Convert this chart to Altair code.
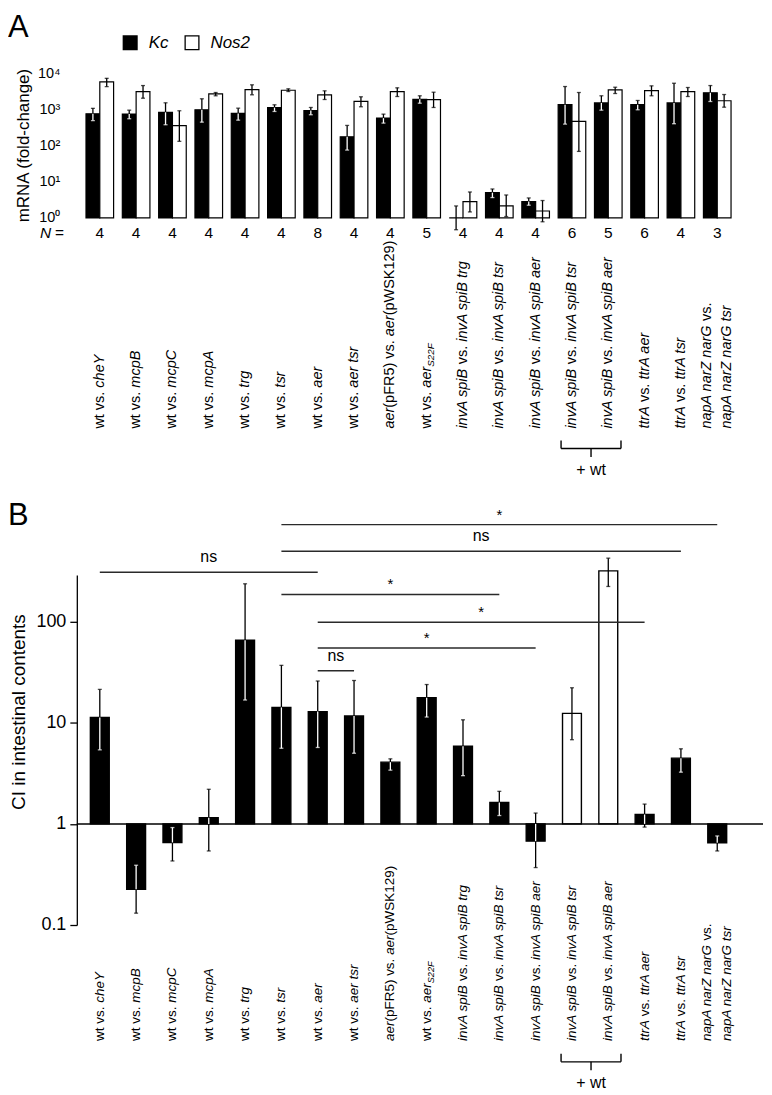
import altair as alt
import pandas as pd

FONT = "Liberation Sans"

# ---------------- data ----------------
# labels: list of lines, each line a list of (text, style) ; n = regular, i = italic, s = italic subscript
LABELS = [
    [[("wt vs. ", "n"), ("cheY", "i")]],
    [[("wt vs. ", "n"), ("mcpB", "i")]],
    [[("wt vs. ", "n"), ("mcpC", "i")]],
    [[("wt vs. ", "n"), ("mcpA", "i")]],
    [[("wt vs. ", "n"), ("trg", "i")]],
    [[("wt vs. ", "n"), ("tsr", "i")]],
    [[("wt vs. ", "n"), ("aer", "i")]],
    [[("wt vs. ", "n"), ("aer tsr", "i")]],
    [[("aer", "i"), ("(pFR5) vs. ", "n"), ("aer", "i"), ("(pWSK129)", "n")]],
    [[("wt vs. ", "n"), ("aer", "i"), ("S22F", "s")]],
    [[("invA spiB", "i"), (" vs. ", "n"), ("invA spiB trg", "i")]],
    [[("invA spiB", "i"), (" vs. ", "n"), ("invA spiB tsr", "i")]],
    [[("invA spiB", "i"), (" vs. ", "n"), ("invA spiB aer", "i")]],
    [[("invA spiB", "i"), (" vs. ", "n"), ("invA spiB tsr", "i")]],
    [[("invA spiB", "i"), (" vs. ", "n"), ("invA spiB aer", "i")]],
    [[("ttrA", "i"), (" vs. ", "n"), ("ttrA aer", "i")]],
    [[("ttrA", "i"), (" vs. ", "n"), ("ttrA tsr", "i")]],
    [[("napA narZ narG", "i"), (" vs.", "n")], [("napA narZ narG tsr", "i")]],
]
N_VALUES = [4, 4, 4, 4, 4, 4, 8, 4, 4, 5, 4, 4, 4, 6, 5, 6, 4, 3]
SERIES = ["Kc", "Nos2"]

KC      = [760, 741, 832, 977, 776, 1122, 933, 174, 575, 1905, 1.0, 5.0, 2.82, 1349, 1514, 1349, 1514, 2884]
KC_LO   = [490, 552, 377, 445, 505, 878, 712, 75, 418, 1486, 0.47, 3.65, 2.24, 392, 953, 977, 402, 1656]
KC_HI   = [1070, 953, 1524, 1968, 1083, 1343, 1132, 361, 740, 2382, 2.14, 6.3, 3.56, 4296, 2382, 1766, 5297, 4571]
NOS2    = [5750, 3090, 355, 2692, 3548, 3388, 2512, 1660, 3090, 1862, 2.82, 2.14, 1.55, 468, 3467, 3311, 3090, 1738]
NOS2_LO = [4270, 2042, 131, 2382, 2535, 3126, 1881, 1183, 2275, 1132, 1.46, 1.09, 0.78, 69, 2754, 2382, 2275, 1153]
NOS2_HI = [7240, 4571, 918, 2936, 4786, 3715, 3268, 2234, 3954, 2992, 5.2, 4.3, 3.02, 2936, 4111, 4487, 4036, 2583]

CI    = [11.3, 0.226, 0.655, 1.15, 65.6, 14.2, 12.9, 11.7, 4.08, 17.7, 5.87, 1.63, 0.675, 12.4, 318, 1.24, 4.47, 0.65]
CI_LO = [5.4, 0.131, 0.43, 0.54, 16.8, 5.6, 5.7, 5.0, 3.4, 11.4, 3.0, 1.21, 0.37, 6.8, 223, 0.93, 3.25, 0.54]
CI_HI = [21.4, 0.39, 0.92, 2.2, 237, 37, 25.9, 26.2, 4.4, 23.9, 10.7, 2.1, 1.28, 22.2, 425, 1.57, 5.53, 0.76]
WT_ADDED = [13, 14]          # open bars ("+ wt")

SIG_FROM  = [5, 5, 0, 5, 6, 6, 6]
SIG_TO    = [17, 16, 6, 11, 15, 12, 7]
SIG_LEVEL = [912, 497, 309, 186, 99, 55, 32.7]
SIG_TEXT  = ["*", "ns", "ns", "*", "*", "*", "ns"]

# ---------------- layout constants ----------------
PX = 36.42                 # px per category unit
X_MIN, X_MAX = -0.88, 18.26
B_AXIS_INSET = 9           # px: panel B axis sits to the right of panel A's plot edge
XB_AXIS = X_MIN + B_AXIS_INSET / PX
P_W = 697
A_H, B_H = 145, 351
A_LABEL_BOTTOM, B_LABEL_BOTTOM = 356.3, 467.2
A_FS, B_FS = 14.5, 13.5

W = {' ': 278, 'a': 556, 'b': 556, 'c': 500, 'd': 556, 'e': 556, 'f': 278, 'g': 556, 'h': 556,
     'i': 222, 'j': 222, 'k': 500, 'l': 222, 'm': 833, 'n': 556, 'o': 556, 'p': 556, 'q': 556,
     'r': 333, 's': 500, 't': 278, 'u': 556, 'v': 500, 'w': 722, 'x': 500, 'y': 500, 'z': 500,
     'A': 667, 'B': 667, 'C': 722, 'F': 611, 'G': 778, 'K': 667, 'N': 722, 'P': 667, 'R': 722,
     'S': 667, 'W': 944, 'Y': 667, 'Z': 611, '(': 333, ')': 333, '.': 278}


def tw(s, size):
    return sum(W.get(c, 556) for c in s) / 1000.0 * size


def label_segments(fs, bottom):
    rows = []
    for idx, lines in enumerate(LABELS):
        nl = len(lines)
        for li, line in enumerate(lines):
            off = (li - (nl - 1) / 2) * 0.54
            cum = 0.0
            for text, st in line:
                size = fs * 0.68 if st == "s" else fs
                lead = len(text) - len(text.lstrip())
                trail = len(text) - len(text.rstrip())
                core = text.strip()
                cum += lead * tw(" ", size)
                rows.append(dict(xpos=idx + off, ypos=bottom - cum, text=core, style=st))
                cum += tw(core, size) + trail * tw(" ", size)
    return pd.DataFrame(rows)


def err_tables(xs, vals, los, his, dark):
    rules, inner, caps = [], [], []
    for x, v, lo, hi, d in zip(xs, vals, los, his, dark):
        b0, b1 = min(1.0, v), max(1.0, v)
        rules.append(dict(x=x, lo=lo, hi=hi))
        ilo, ihi = max(lo, b0), min(hi, b1)
        if d and ihi > ilo:
            inner.append(dict(x=x, lo=ilo, hi=ihi))
        for e in (lo, hi):
            caps.append(dict(x=x, y=e, col="white" if (d and b0 <= e <= b1) else "black"))
    return pd.DataFrame(rules), pd.DataFrame(inner), pd.DataFrame(caps)


def label_layers(xscale, H, fs, bottom, bracket_top):
    labY = alt.Scale(domain=[H, 0], nice=False, zero=False)
    seg = label_segments(fs, bottom)
    out = []
    for st, style, size, dy in (("n", "normal", fs, 0), ("i", "italic", fs, 0), ("s", "italic", fs * 0.68, 4)):
        out.append(alt.Chart(seg[seg["style"] == st]).mark_text(
            angle=270, align="left", baseline="middle", font=FONT, fontSize=size, fontStyle=style,
            dy=dy, color="black").encode(
            x=alt.X("xpos:Q", scale=xscale, axis=None),
            y=alt.Y("ypos:Q", scale=labY, axis=None), text="text:N"))
    l, r = WT_ADDED[0] - 0.3, WT_ADDED[-1] + 0.35
    m = (l + r) / 2
    yb = bracket_top + 8
    br = pd.DataFrame([
        dict(x=l, x2=r, y=yb, y2=yb),
        dict(x=l, x2=l, y=bracket_top, y2=yb),
        dict(x=r, x2=r, y=bracket_top, y2=yb),
        dict(x=m, x2=m, y=yb, y2=yb + 8.5),
    ])
    out.append(alt.Chart(br).mark_rule(color="black", strokeWidth=1.4).encode(
        x=alt.X("x:Q", scale=xscale, axis=None), x2="x2:Q",
        y=alt.Y("y:Q", scale=labY, axis=None), y2="y2:Q"))
    out.append(alt.Chart(pd.DataFrame([dict(x=m, y=yb + 21.5, t="+ wt")])).mark_text(
        font=FONT, fontSize=16, baseline="middle", color="black").encode(
        x=alt.X("x:Q", scale=xscale, axis=None), y=alt.Y("y:Q", scale=labY, axis=None), text="t:N"))
    return out, labY


def errs(df, dark, xs, ys):
    r, i, c = err_tables(df.xc, df.val, df.lo, df.hi, dark)
    e1 = alt.Chart(r).mark_rule(color="black", strokeWidth=1.3).encode(
        x=alt.X("x:Q", scale=xs, axis=None), y=alt.Y("lo:Q", scale=ys, axis=None), y2="hi:Q")
    e2 = alt.Chart(i).mark_rule(color="white", strokeWidth=1.3).encode(
        x=alt.X("x:Q", scale=xs, axis=None), y=alt.Y("lo:Q", scale=ys, axis=None), y2="hi:Q")
    e3 = alt.Chart(c).mark_tick(orient="horizontal", size=4, thickness=1.3).encode(
        x=alt.X("x:Q", scale=xs, axis=None), y=alt.Y("y:Q", scale=ys, axis=None),
        color=alt.Color("col:N", scale=None))
    return [e1, e2, e3]


xS = alt.Scale(domain=[X_MIN, X_MAX], nice=False, zero=False)

# ---------------- panel A ----------------
yA = alt.Scale(type="log", domain=[1, 10000], nice=False)

rowsA = []
for i in range(len(N_VALUES)):
    rowsA.append(dict(series="Kc", x0=i - 0.38, x1=i, xc=i - 0.19, val=KC[i], lo=KC_LO[i], hi=KC_HI[i], base=1))
    rowsA.append(dict(series="Nos2", x0=i, x1=i + 0.38, xc=i + 0.19, val=NOS2[i], lo=NOS2_LO[i], hi=NOS2_HI[i], base=1))
dfA = pd.DataFrame(rowsA)

barsA = alt.Chart(dfA).mark_bar(stroke="black", strokeWidth=1.2).encode(
    x=alt.X("x0:Q", scale=xS, axis=alt.Axis(labels=False, ticks=False, grid=False, title=None,
                                            domainColor="black", domainWidth=1.6)),
    x2="x1:Q",
    y=alt.Y("val:Q", scale=yA, axis=alt.Axis(
        values=[1, 10, 100, 1000, 10000], grid=False, domain=False, ticks=False,
        labelExpr="'10' + ['\u2070','\u00b9','\u00b2','\u00b3','\u2074'][round(log(datum.value)/LN10)]",
        labelFontSize=14.5, labelPadding=8, title="mRNA (fold-change)", titleFontSize=17,
        titleFontWeight="normal", titleX=-44, titleY=72, titleAngle=270, titleBaseline="middle")),
    y2="base:Q",
    fill=alt.Fill("series:N", scale=alt.Scale(domain=SERIES, range=["black", "white"]),
                  legend=alt.Legend(orient="none", legendX=54, legendY=-39, direction="horizontal",
                                    title=None, symbolType="square", symbolSize=190,
                                    symbolStrokeColor="black", symbolStrokeWidth=1.3,
                                    labelFontSize=17, labelFontStyle="italic", labelFont=FONT,
                                    labelOffset=10, columnPadding=14, padding=0)),
)

labsA, labYA = label_layers(xS, A_H, A_FS, A_LABEL_BOTTOM, 368.3)
N_ROW = 160
dfN = pd.DataFrame(dict(x=list(range(len(N_VALUES))), n=[str(v) for v in N_VALUES], y=[N_ROW] * len(N_VALUES)))
nrow = alt.Chart(dfN).mark_text(font=FONT, fontSize=15.5, baseline="middle", color="black").encode(
    x=alt.X("x:Q", scale=xS, axis=None), y=alt.Y("y:Q", scale=labYA, axis=None), text="n:N")
dfNl = pd.DataFrame([dict(x=X_MIN - 28 / PX, y=N_ROW, a="N", b="=")])
nlab1 = alt.Chart(dfNl).mark_text(font=FONT, fontSize=15.5, fontStyle="italic", align="left",
                                  baseline="middle", color="black").encode(
    x=alt.X("x:Q", scale=xS, axis=None), y=alt.Y("y:Q", scale=labYA, axis=None), text="a:N")
nlab2 = alt.Chart(dfNl).mark_text(font=FONT, fontSize=15.5, align="left", baseline="middle", dx=15,
                                  color="black").encode(
    x=alt.X("x:Q", scale=xS, axis=None), y=alt.Y("y:Q", scale=labYA, axis=None), text="b:N")

chartA = alt.layer(barsA, *errs(dfA, [s == "Kc" for s in dfA.series], xS, yA),
                   *labsA, nrow, nlab1, nlab2).resolve_scale(y="independent").properties(
    width=P_W, height=A_H,
    title=alt.TitleParams("A", anchor="start", frame="group", dx=-60, dy=-19, fontSize=31,
                          fontWeight="normal", font=FONT, color="black", offset=2))

# ---------------- panel B ----------------
yB = alt.Scale(type="log", domain=[0.1, 290], nice=False)

dfB = pd.DataFrame(dict(
    x0=[i - 0.26 for i in range(len(CI))], x1=[i + 0.26 for i in range(len(CI))],
    xc=list(range(len(CI))), val=CI, lo=CI_LO, hi=CI_HI, base=[1] * len(CI),
    kind=["white" if i in WT_ADDED else "black" for i in range(len(CI))]))

sig = pd.DataFrame(dict(a=SIG_FROM, b=SIG_TO, y=SIG_LEVEL, t=SIG_TEXT))
sig["m"] = (sig.a + sig.b) / 2
sigLines = alt.Chart(sig).mark_rule(color="#2a2a2a", strokeWidth=1.5).encode(
    x=alt.X("a:Q", scale=xS, axis=None), x2="b:Q", y=alt.Y("y:Q", scale=yB, axis=None))
sigStar = alt.Chart(sig[sig.t == "*"]).mark_text(font=FONT, fontSize=15, dy=-5, baseline="alphabetic",
                                                 color="black").encode(
    x=alt.X("m:Q", scale=xS, axis=None), y=alt.Y("y:Q", scale=yB, axis=None), text="t:N")
sigNs = alt.Chart(sig[sig.t == "ns"]).mark_text(font=FONT, fontSize=16, dy=-10, baseline="alphabetic",
                                                color="black").encode(
    x=alt.X("m:Q", scale=xS, axis=None), y=alt.Y("y:Q", scale=yB, axis=None), text="t:N")

baseline = alt.Chart(pd.DataFrame(dict(base=[1], x0=[XB_AXIS], x1=[X_MAX]))).mark_rule(
    color="black", strokeWidth=1.5).encode(
    x=alt.X("x0:Q", scale=xS, axis=None), x2="x1:Q", y=alt.Y("base:Q", scale=yB, axis=None))

barsB = alt.Chart(dfB).mark_bar(stroke="black", strokeWidth=1.4).encode(
    x=alt.X("x0:Q", scale=xS, axis=None),
    x2="x1:Q",
    y=alt.Y("val:Q", scale=yB, axis=alt.Axis(
        values=[0.1, 1, 10, 100], format="~g", grid=False, tickSize=7, tickWidth=1.3, domainWidth=1.3,
        offset=-B_AXIS_INSET,
        labelFontSize=18, labelPadding=4, title="CI in intestinal contents", titleFontSize=19,
        titleFontWeight="normal", titleX=-58, titleY=137, titleAngle=270, titleBaseline="middle")),
    y2="base:Q",
    fill=alt.Fill("kind:N", scale=None),
)

labsB, labYB = label_layers(xS, B_H, B_FS, B_LABEL_BOTTOM, 480.2)

chartB = alt.layer(barsB, sigLines, sigStar, sigNs, baseline,
                   *errs(dfB, [k == "black" for k in dfB.kind], xS, yB),
                   *labsB).resolve_scale(y="independent").properties(
    width=P_W, height=B_H,
    title=alt.TitleParams("B", anchor="start", frame="group", dx=-60, dy=26, fontSize=31,
                          fontWeight="normal", font=FONT, color="black", offset=2))

chart = alt.vconcat(chartA, chartB, spacing=21).properties(
    padding={"left": 0, "top": 3, "right": 0, "bottom": 0}).configure_view(
    stroke=None).configure_axis(
    labelFont=FONT, titleFont=FONT, labelColor="black", titleColor="black", tickColor="black",
    domainColor="black")

chart.save("out.html", embed_options={"renderer": "svg", "actions": False})
